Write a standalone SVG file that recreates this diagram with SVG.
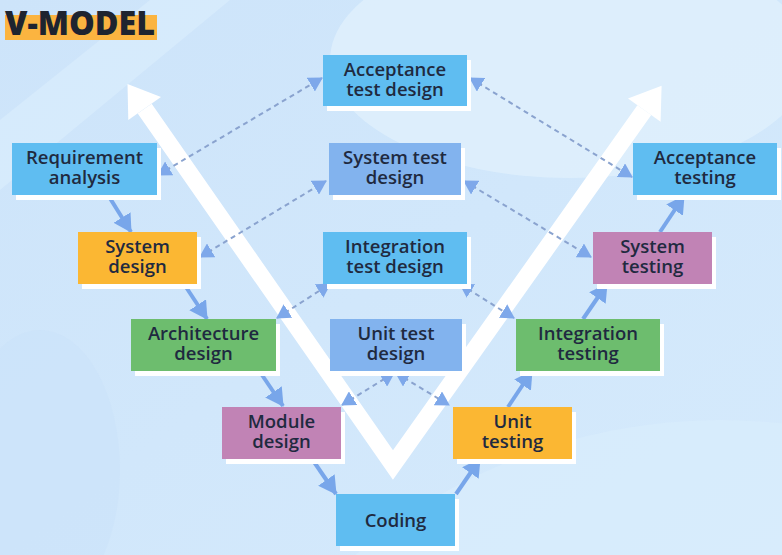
<svg xmlns="http://www.w3.org/2000/svg" width="782" height="555" viewBox="0 0 782 555">
<defs>
<style>
.box text{font-family:"Open Sans","Liberation Sans",sans-serif;font-weight:600;font-size:18.5px;fill:#1f2a40;text-anchor:middle}
.sh{fill:#ffffff}
.blue{fill:#5fbdf1}
.peri{fill:#82b3ee}
.orange{fill:#fbb733}
.green{fill:#6dbd6e}
.mauve{fill:#c183b5}
.dash{stroke:#8aa3cf;stroke-width:2;stroke-dasharray:5 4;fill:none;marker-start:url(#tri);marker-end:url(#tri)}
.solid{stroke:#78a6ea;stroke-width:4;fill:none;marker-end:url(#ah)}
</style>
<marker id="tri" markerUnits="userSpaceOnUse" viewBox="0 0 14 16" refX="13" refY="8" markerWidth="14" markerHeight="16" orient="auto-start-reverse">
<path d="M0,0 L14,8 L0,16 z" fill="#7ea8ea"/>
</marker>
<marker id="ah" markerUnits="userSpaceOnUse" viewBox="0 0 18 20" refX="17" refY="10" markerWidth="18" markerHeight="20" orient="auto">
<path d="M0,0 L18,10 L0,20 z" fill="#78a6ea"/>
</marker>
<linearGradient id="bg" x1="0" y1="0" x2="1" y2="1">
<stop offset="0" stop-color="#cde4fa"/>
<stop offset="1" stop-color="#d5eafc"/>
</linearGradient>
</defs>
<rect width="782" height="555" fill="url(#bg)"/>
<ellipse cx="570" cy="60" rx="240" ry="118" fill="#e0f0fd" opacity="0.8"/>
<path d="M0,120 L150,0 L230,0 L0,190 z" fill="#dceefd" opacity="0.6"/>
<circle cx="720" cy="980" r="560" fill="#d9ecfc" opacity="0.7"/>
<ellipse cx="40" cy="470" rx="80" ry="140" fill="#c9e2f9" opacity="0.5"/>

<g id="title">
<rect x="5" y="15" width="152" height="25" fill="#fbb440"/>
<text x="5" y="35" font-family="'Open Sans','Liberation Sans',sans-serif" font-weight="800" font-size="33" fill="#1e2430" textLength="150" lengthAdjust="spacingAndGlyphs">V-MODEL</text>
</g>

<g id="v-arrow" fill="#ffffff">
<polyline points="144.7,108.6 393,465 644.3,110.2" stroke="#ffffff" stroke-width="17" fill="none" stroke-linejoin="miter" stroke-miterlimit="10"/>
<polygon points="127.5,84 161,97 128.3,120"/>
<polygon points="661.6,85.7 628,98.6 660.6,121.8"/>
</g>

<g id="connectors">
<line class="dash" x1="158" y1="175" x2="322" y2="78"/>
<line class="dash" x1="470" y1="78" x2="632" y2="177"/>
<line class="dash" x1="200" y1="257" x2="326" y2="181"/>
<line class="dash" x1="464" y1="181" x2="591" y2="257"/>
<line class="dash" x1="277" y1="318" x2="330" y2="284"/>
<line class="dash" x1="460" y1="284" x2="514" y2="318"/>
<line class="dash" x1="342" y1="405" x2="394" y2="373"/>
<line class="dash" x1="396" y1="373" x2="449" y2="405"/>
<line class="solid" x1="108" y1="195" x2="131" y2="232"/>
<line class="solid" x1="184" y1="284" x2="207" y2="319"/>
<line class="solid" x1="260" y1="372" x2="283" y2="406"/>
<line class="solid" x1="312" y1="459" x2="336" y2="494"/>
<line class="solid" x1="456" y1="494" x2="480" y2="459"/>
<line class="solid" x1="508" y1="407" x2="532" y2="371"/>
<line class="solid" x1="583" y1="319" x2="607" y2="284"/>
<line class="solid" x1="660" y1="232" x2="684" y2="196"/>
</g>

<g id="requirement-analysis" class="box">
<rect class="sh" x="16" y="148" width="145" height="52"/>
<rect class="blue" x="12" y="143" width="145" height="52"/>
<text x="84.5" y="164">Requirement<tspan x="84.5" dy="20">analysis</tspan></text>
</g>
<g id="system-design" class="box">
<rect class="sh" x="82" y="237" width="119" height="52"/>
<rect class="orange" x="78" y="232" width="119" height="52"/>
<text x="137.5" y="253">System<tspan x="137.5" dy="20">design</tspan></text>
</g>
<g id="architecture-design" class="box">
<rect class="sh" x="135" y="324" width="145" height="52"/>
<rect class="green" x="131" y="319" width="145" height="52"/>
<text x="203.5" y="340">Architecture<tspan x="203.5" dy="20">design</tspan></text>
</g>
<g id="module-design" class="box">
<rect class="sh" x="226" y="412" width="119" height="52"/>
<rect class="mauve" x="222" y="407" width="119" height="52"/>
<text x="281.5" y="428">Module<tspan x="281.5" dy="20">design</tspan></text>
</g>
<g id="coding" class="box">
<rect class="sh" x="340" y="499" width="119" height="52"/>
<rect class="blue" x="336" y="494" width="119" height="52"/>
<text x="395.5" y="527">Coding</text>
</g>
<g id="unit-testing" class="box">
<rect class="sh" x="457" y="412" width="119" height="52"/>
<rect class="orange" x="453" y="407" width="119" height="52"/>
<text x="512.5" y="428">Unit<tspan x="512.5" dy="20">testing</tspan></text>
</g>
<g id="integration-testing" class="box">
<rect class="sh" x="520" y="324" width="144" height="52"/>
<rect class="green" x="516" y="319" width="144" height="52"/>
<text x="588" y="340">Integration<tspan x="588" dy="20">testing</tspan></text>
</g>
<g id="system-testing" class="box">
<rect class="sh" x="597" y="237" width="119" height="52"/>
<rect class="mauve" x="593" y="232" width="119" height="52"/>
<text x="652.5" y="253">System<tspan x="652.5" dy="20">testing</tspan></text>
</g>
<g id="acceptance-testing" class="box">
<rect class="sh" x="637" y="148" width="144" height="52"/>
<rect class="blue" x="633" y="143" width="144" height="52"/>
<text x="705" y="164">Acceptance<tspan x="705" dy="20">testing</tspan></text>
</g>
<g id="acceptance-test-design" class="box">
<rect class="sh" x="327" y="60" width="144" height="51"/>
<rect class="blue" x="323" y="55" width="144" height="51"/>
<text x="395" y="76">Acceptance<tspan x="395" dy="20">test design</tspan></text>
</g>
<g id="system-test-design" class="box">
<rect class="sh" x="333" y="148" width="132" height="52"/>
<rect class="peri" x="329" y="143" width="132" height="52"/>
<text x="395" y="164">System test<tspan x="395" dy="20">design</tspan></text>
</g>
<g id="integration-test-design" class="box">
<rect class="sh" x="327" y="237" width="144" height="52"/>
<rect class="blue" x="323" y="232" width="144" height="52"/>
<text x="395" y="253">Integration<tspan x="395" dy="20">test design</tspan></text>
</g>
<g id="unit-test-design" class="box">
<rect class="sh" x="334" y="324" width="132" height="52"/>
<rect class="peri" x="330" y="319" width="132" height="52"/>
<text x="396" y="340">Unit test<tspan x="396" dy="20">design</tspan></text>
</g>
</svg>
